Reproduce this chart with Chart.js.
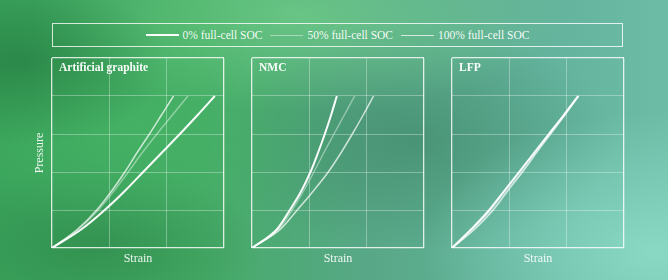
<!DOCTYPE html>
<html>
<head>
<meta charset="utf-8">
<script src="https://cdn.jsdelivr.net/npm/chart.js@4.4.1/dist/chart.umd.min.js"></script>
<style>
  html, body { margin: 0; padding: 0; }
  body {
    width: 668px; height: 280px; overflow: hidden; position: relative;
    font-family: "Liberation Serif", serif;
    background:
      radial-gradient(ellipse 22% 30% at 3% 22%, rgba(30,112,56,0.55), rgba(30,112,56,0) 100%),
      radial-gradient(ellipse 40% 35% at 45% 5%, rgba(120,215,140,0.6), rgba(120,215,140,0) 100%),
      radial-gradient(ellipse 30% 40% at 20% 45%, rgba(70,185,100,0.5), rgba(70,185,100,0) 100%),
      radial-gradient(ellipse 35% 50% at 98% 90%, rgba(140,220,200,0.9), rgba(140,220,200,0) 100%),
      radial-gradient(ellipse 30% 40% at 62% 50%, rgba(55,125,95,0.5), rgba(55,125,95,0) 100%),
      radial-gradient(ellipse 25% 30% at 14% 88%, rgba(40,125,65,0.5), rgba(40,125,65,0) 100%),
      linear-gradient(90deg, #3aa45c 0%, #45ab66 30%, #58a887 55%, #62b19a 78%, #6cbca6 100%);
  }
  .panel { position: absolute; top: 56px; width: 196px; height: 216px; }
  #legend {
    position: absolute; left: 52px; top: 23px; width: 569px; height: 22px;
    border: 1.2px solid rgba(255,255,255,0.8);
    display: flex; align-items: center; justify-content: center;
    color: rgba(255,255,255,0.95); font-size: 11.5px;
  }
  .item { display: flex; align-items: center; margin: 0 4px; }
  .sw { width: 33px; margin-right: 4px; }
</style>
</head>
<body>
<div id="legend"></div>
<div class="panel" style="left:30px"><canvas id="c0"></canvas></div>
<div class="panel" style="left:230px"><canvas id="c1"></canvas></div>
<div class="panel" style="left:430px"><canvas id="c2"></canvas></div>
<script>
// ---- data ----
const pressureLevels = [0, 0.5, 1, 1.5, 2, 2.5, 3, 3.5, 4];
const seriesLabels = ['0% full-cell SOC', '50% full-cell SOC', '100% full-cell SOC'];
const panelTitles = ['Artificial graphite', 'NMC', 'LFP'];
const xAxisTitle = 'Strain';
const yAxisTitle = 'Pressure';

const graphiteStrain0   = [0, 0.52, 0.92, 1.27, 1.59, 1.91, 2.23, 2.54, 2.84];
const graphiteStrain50  = [0, 0.47, 0.81, 1.08, 1.33, 1.57, 1.83, 2.10, 2.37];
const graphiteStrain100 = [0, 0.45, 0.78, 1.04, 1.27, 1.48, 1.70, 1.91, 2.12];

const nmcStrain0   = [0, 0.44, 0.66, 0.86, 1.02, 1.15, 1.27, 1.38, 1.48];
const nmcStrain50  = [0, 0.47, 0.70, 0.90, 1.08, 1.25, 1.43, 1.61, 1.79];
const nmcStrain100 = [0, 0.50, 0.79, 1.07, 1.33, 1.55, 1.75, 1.94, 2.12];

const lfpStrain0   = [0, 0.34, 0.65, 0.91, 1.17, 1.43, 1.69, 1.95, 2.20];
const lfpStrain50  = [0, 0.37, 0.68, 0.94, 1.20, 1.45, 1.70, 1.96, 2.20];
const lfpStrain100 = [0, 0.40, 0.72, 0.97, 1.23, 1.47, 1.72, 1.97, 2.21];

// ---- styles ----
const lineColors = ['rgba(255,255,255,0.97)', 'rgba(255,255,255,0.42)', 'rgba(255,255,255,0.72)'];
const lineWidths = [2, 1.4, 1.5];
const FONT = '"Liberation Serif", serif';

// legend (HTML)
const legend = document.getElementById('legend');
seriesLabels.forEach((lab, i) => {
  const it = document.createElement('div'); it.className = 'item';
  const sw = document.createElement('div'); sw.className = 'sw';
  sw.style.borderTop = lineWidths[i] + 'px solid ' + lineColors[i];
  const tx = document.createElement('span'); tx.textContent = lab;
  it.appendChild(sw); it.appendChild(tx); legend.appendChild(it);
});

const panelSeries = [
  [graphiteStrain0, graphiteStrain50, graphiteStrain100],
  [nmcStrain0, nmcStrain50, nmcStrain100],
  [lfpStrain0, lfpStrain50, lfpStrain100]
];

const titlePlugin = {
  id: 'panelTitle',
  afterDraw(chart) {
    const t = chart.options.plugins.panelTitle.text;
    const { ctx, chartArea } = chart;
    ctx.save();
    ctx.font = 'bold 11.5px ' + FONT;
    ctx.fillStyle = 'rgba(255,255,255,0.97)';
    ctx.textBaseline = 'middle';
    ctx.textAlign = 'left';
    ctx.fillText(t, chartArea.left + 7, chartArea.top + 10);
    ctx.restore();
  }
};

const edgeColor = 'rgba(255,255,255,0.82)';
const gridColor = 'rgba(255,255,255,0.32)';

panelSeries.forEach((series, p) => {
  const datasets = series.map((s, i) => ({
    label: seriesLabels[i],
    data: pressureLevels.map((y, k) => ({ x: s[k], y: y })),
    borderColor: lineColors[i],
    borderWidth: lineWidths[i],
    pointRadius: 0,
    fill: false,
    cubicInterpolationMode: 'monotone'
  }));
  new Chart(document.getElementById('c' + p), {
    type: 'line',
    data: { datasets },
    plugins: [titlePlugin],
    options: {
      responsive: true,
      maintainAspectRatio: false,
      animation: false,
      events: [],
      layout: { padding: { top: 2, right: 2, left: 0, bottom: 0 } },
      plugins: {
        legend: { display: false },
        tooltip: { enabled: false },
        panelTitle: { text: panelTitles[p] }
      },
      scales: {
        x: {
          type: 'linear', min: 0, max: 3,
          ticks: { display: false, stepSize: 1 },
          border: { display: false },
          grid: {
            drawTicks: false, lineWidth: (c) => (c.tick && (c.tick.value === 0 || c.tick.value === 3)) ? 1.3 : 1,
            color: (c) => (c.tick && (c.tick.value === 0 || c.tick.value === 3)) ? edgeColor : gridColor
          },
          title: { display: true, text: xAxisTitle, color: 'rgba(255,255,255,0.9)',
                   font: { family: FONT, size: 12 }, padding: { top: 0, bottom: 6 } },
          afterFit: (s) => { s.height = 24; }
        },
        y: {
          type: 'linear', min: 0, max: 5,
          ticks: { display: false, stepSize: 1 },
          border: { display: false },
          grid: {
            drawTicks: false, lineWidth: (c) => (c.tick && (c.tick.value === 0 || c.tick.value === 5)) ? 1.3 : 1,
            color: (c) => (c.tick && (c.tick.value === 0 || c.tick.value === 5)) ? edgeColor : gridColor
          },
          title: { display: p === 0, text: yAxisTitle, color: 'rgba(255,255,255,0.9)',
                   font: { family: FONT, size: 12 }, padding: { top: 3, bottom: 0 } },
          afterFit: (s) => { s.width = 22; }
        }
      }
    }
  });
});
</script>
</body>
</html>
